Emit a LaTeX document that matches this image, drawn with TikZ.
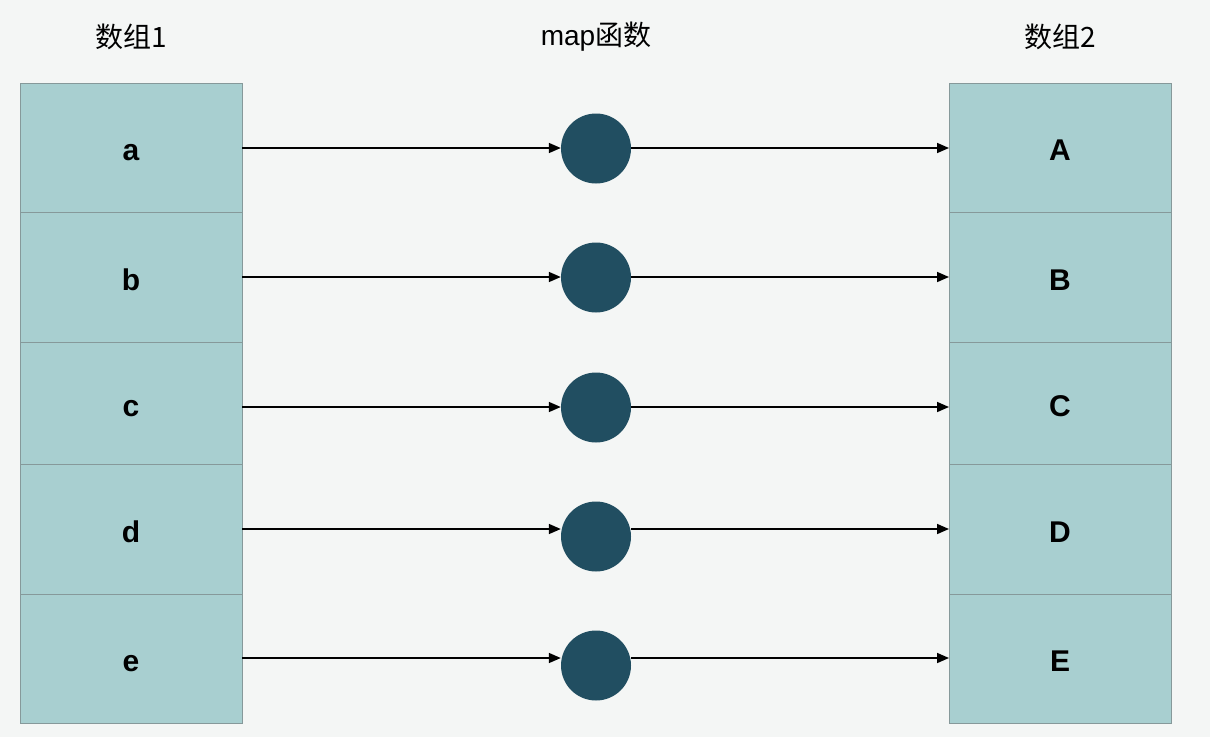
\documentclass[tikz,border=0pt]{standalone}
\usepackage{fontspec}
\setmainfont{Liberation Sans}
\newfontfamily\cjk{Noto Sans CJK SC}
\usetikzlibrary{arrows.meta}

\definecolor{bgcol}{HTML}{F4F6F5}
\definecolor{cellcol}{HTML}{A8CFD0}
\definecolor{cellline}{HTML}{86999A}
\definecolor{funcol}{HTML}{214E61}

\tikzstyle{cell}=[draw=cellline,fill=cellcol,line width=1pt,minimum width=222pt,inner sep=0pt,text height=26pt,text depth=0pt,font=\fontsize{30}{34}\selectfont\bfseries]
\tikzstyle{func}=[circle,fill=funcol,minimum size=70pt,inner sep=0pt]
\tikzstyle{title}=[font=\fontsize{28}{32}\selectfont]
\tikzstyle{link}=[line width=1.6pt,-{Triangle[length=12pt,width=10pt]}]

\begin{document}
\begin{tikzpicture}[x=1pt,y=-1pt]
% background
   \fill[bgcol] (0,0) rectangle (1210,737);
   \useasboundingbox (0,0) rectangle (1210,737);

% titles
   \node[title] (t1) at (131,37) {\cjk 数组1};
   \node[title] (t2) at (596,37) {map\cjk 函数};
   \node[title] (t3) at (1060,37) {\cjk 数组2};

% array 1
   \node[cell,minimum height=129pt] (a) at (131,147.5) {a};
   \node[cell,minimum height=130pt] (b) at (131,277) {b};
   \node[cell,minimum height=122pt] (c) at (131,403) {c};
   \node[cell,minimum height=130pt] (d) at (131,529) {d};
   \node[cell,minimum height=129pt] (e) at (131,658.5) {e};

% array 2
   \node[cell,minimum height=129pt] (A) at (1060,147.5) {A};
   \node[cell,minimum height=130pt] (B) at (1060,277) {B};
   \node[cell,minimum height=122pt] (C) at (1060,403) {C};
   \node[cell,minimum height=130pt] (D) at (1060,529) {D};
   \node[cell,minimum height=129pt] (E) at (1060,658.5) {E};

% map function
   \node[func] (f1) at (596,148.5) {};
   \node[func] (f2) at (596,277.5) {};
   \node[func] (f3) at (596,407.5) {};
   \node[func] (f4) at (596,536.5) {};
   \node[func] (f5) at (596,665.5) {};

\foreach \i/\j/\y in {a/A/148,b/B/277,c/C/407,d/D/529,e/E/658}{
   \coordinate (\i in) at (242,\y);
   \coordinate (\j in) at (949,\y);
}
\foreach \i/\j/\k in {a/A/1,b/B/2,c/C/3,d/D/4,e/E/5}{
   \draw[link] (\i in) -- (\i in -| f\k.west);
   \draw[link] (\i in -| f\k.east) -- (\j in);
}

\end{tikzpicture}
\end{document}
